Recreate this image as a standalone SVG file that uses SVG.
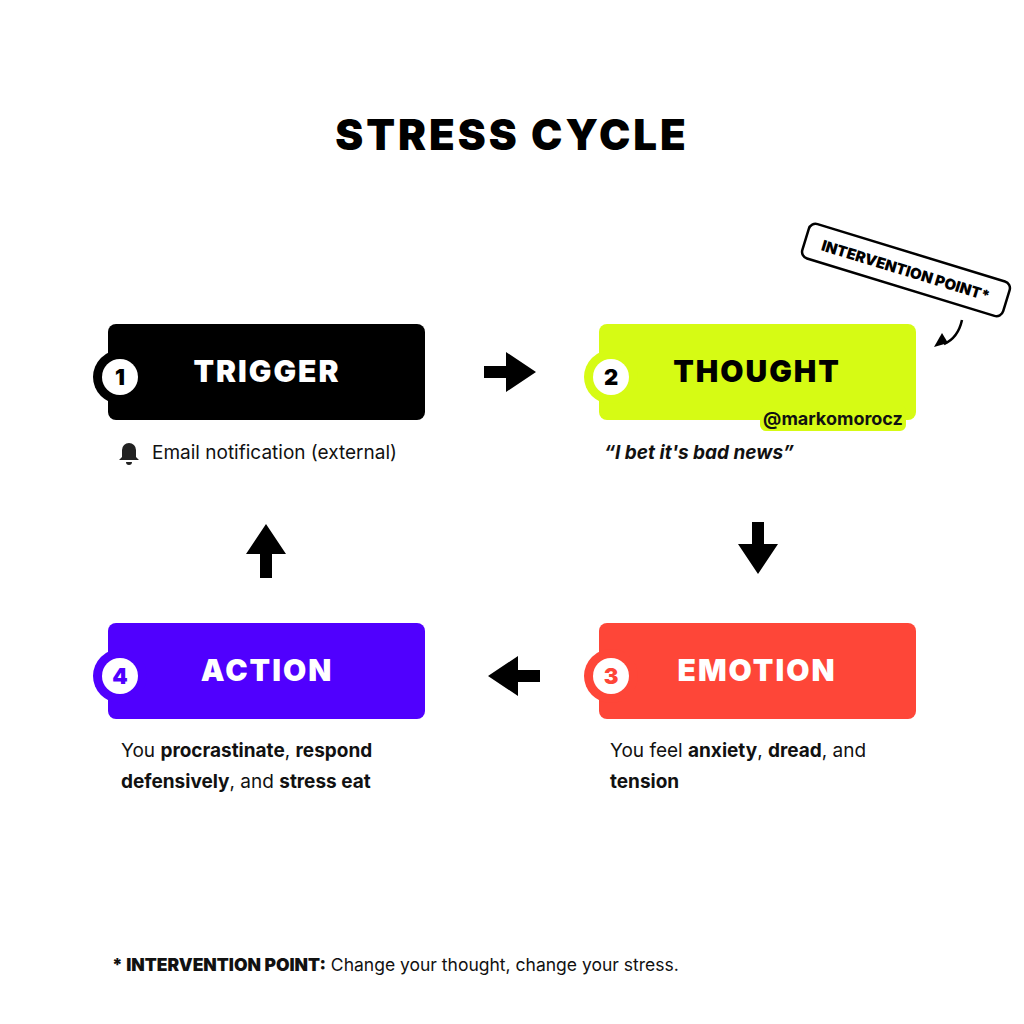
<svg xmlns="http://www.w3.org/2000/svg" width="1024" height="1024" viewBox="0 0 1024 1024">
<style>
.h{font-family:"Inter","Liberation Sans",sans-serif;font-weight:900;}
.t{font-family:"Inter","Liberation Sans",sans-serif;font-size:19px;fill:#111;}
.b{font-weight:700;}
.num{font-family:"Inter","Liberation Sans",sans-serif;font-weight:900;font-size:22px;text-anchor:middle;}
.lbl{font-size:30px;text-anchor:middle;letter-spacing:2px;}
</style>
<rect width="1024" height="1024" fill="#fff"/>
<text x="512" y="150" class="h" font-size="42" letter-spacing="3" text-anchor="middle" fill="#000">STRESS CYCLE</text>
<g id="trigger">
<rect x="108" y="324" width="317" height="96" rx="8" fill="#000"/>
<circle cx="120" cy="377" r="27" fill="#000"/>
<circle cx="120" cy="377" r="18" fill="#fff"/>
<text x="120" y="385" class="num" fill="#000">1</text>
<text x="267" y="382" class="h lbl" fill="#fff">TRIGGER</text>
<path d="M129 443a7 7 0 0 1 7 7v7l3 3h-20l3-3v-7a7 7 0 0 1 7-7z M126 462h6a3 3 0 0 1-6 0z" fill="#222"/>
<text x="152" y="459" class="t">Email notification (external)</text>
</g>
<g id="thought">
<rect x="599" y="324" width="317" height="96" rx="8" fill="#d6fb14"/>
<circle cx="611" cy="377" r="27" fill="#d6fb14"/>
<circle cx="611" cy="377" r="18" fill="#fff"/>
<text x="611" y="385" class="num" fill="#000">2</text>
<text x="757" y="382" class="h lbl" fill="#000">THOUGHT</text>
<rect x="760" y="405" width="146" height="26" rx="6" fill="#d6fb14"/>
<text x="833" y="425" class="t b" text-anchor="middle" style="font-size:18px">@markomorocz</text>
<text x="604" y="459" class="t b" font-style="italic">“I bet it's bad news”</text>
</g>
<g id="intervention" transform="rotate(17 906 270)">
<rect x="801" y="252" width="210" height="36" rx="7" fill="#fff" stroke="#000" stroke-width="2.5"/>
<text x="906" y="276" class="h" font-size="15" text-anchor="middle">INTERVENTION POINT*</text>
</g>
<g id="emotion">
<rect x="599" y="623" width="317" height="96" rx="8" fill="#fe4638"/>
<circle cx="611" cy="676" r="27" fill="#fe4638"/>
<circle cx="611" cy="676" r="18" fill="#fff"/>
<text x="611" y="684" class="num" fill="#fe4638">3</text>
<text x="757" y="681" class="h lbl" fill="#fff">EMOTION</text>
<text x="610" y="757" class="t">You feel <tspan class="b">anxiety</tspan>, <tspan class="b">dread</tspan>, and</text>
<text x="610" y="788" class="t b">tension</text>
</g>
<g id="action">
<rect x="108" y="623" width="317" height="96" rx="8" fill="#5000fe"/>
<circle cx="120" cy="676" r="27" fill="#5000fe"/>
<circle cx="120" cy="676" r="18" fill="#fff"/>
<text x="120" y="684" class="num" fill="#5000fe">4</text>
<text x="267" y="681" class="h lbl" fill="#fff">ACTION</text>
<text x="121" y="757" class="t">You <tspan class="b">procrastinate</tspan>, <tspan class="b">respond</tspan></text>
<text x="121" y="788" class="t"><tspan class="b">defensively</tspan>, and <tspan class="b">stress eat</tspan></text>
</g>
<g id="connectors" fill="#000">
<path d="M484 366h22v-14l30 20-30 20v-14h-22z"/>
<path d="M752 522h12v22h14l-20 30-20-30h14z"/>
<path d="M540 670h-22v-14l-30 20 30 20v-14h22z"/>
<path d="M260 578h12v-24h14l-20-30-20 30h14z"/>
<path d="M962 320q-4 18-18 24" fill="none" stroke="#000" stroke-width="2.5"/>
<path d="M934 347l8-14 6 10z"/>
</g>
<text x="112" y="971" class="t" style="font-size:17.5px"><tspan class="h">* INTERVENTION POINT:</tspan> Change your thought, change your stress.</text>
</svg>
